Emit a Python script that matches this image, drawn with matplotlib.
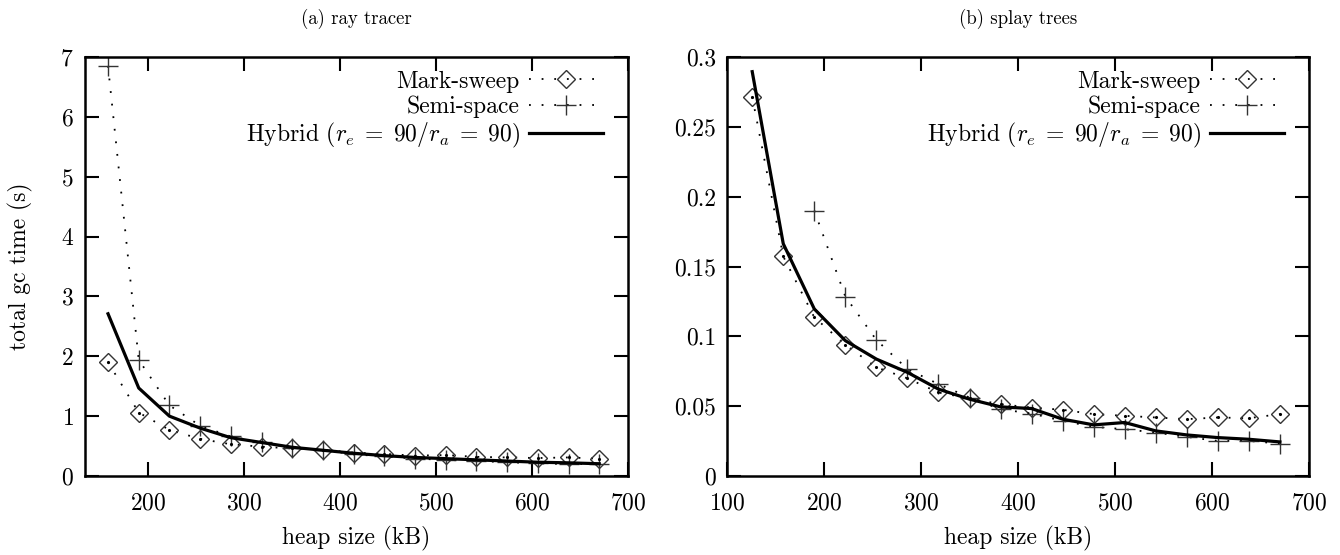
import matplotlib
matplotlib.use('Agg')
import matplotlib.pyplot as plt
from matplotlib.ticker import FuncFormatter

# data (a) ray tracer
ray_heap = [158, 190, 222, 254, 286, 318, 350, 382, 414, 446, 478, 510, 542, 574, 606, 638, 670]
ray_marksweep = [1.90, 1.06, 0.77, 0.62, 0.53, 0.49, 0.46, 0.44, 0.39, 0.37, 0.34, 0.35, 0.32, 0.31, 0.30, 0.31, 0.29]
ray_semispace = [6.85, 1.94, 1.18, 0.84, 0.66, 0.56, 0.47, 0.44, 0.36, 0.33, 0.29, 0.27, 0.25, 0.23, 0.21, 0.20, 0.20]
ray_hybrid = [2.71, 1.47, 1.00, 0.80, 0.64, 0.56, 0.48, 0.43, 0.38, 0.34, 0.31, 0.29, 0.27, 0.25, 0.23, 0.22, 0.205]

# data (b) splay trees
splay_heap = [126, 158, 190, 222, 254, 286, 318, 350, 382, 414, 446, 478, 510, 542, 574, 606, 638, 670]
splay_marksweep = [0.2715, 0.1572, 0.1136, 0.0940, 0.0778, 0.0699, 0.0598, 0.0555, 0.0514, 0.0490,
                   0.0474, 0.0443, 0.0431, 0.0419, 0.0407, 0.0419, 0.0414, 0.0443]
splay_semi_heap = [190, 222, 254, 286, 318, 350, 382, 414, 446, 478, 510, 542, 574, 606, 638, 670]
splay_semispace = [0.190, 0.1285, 0.0974, 0.0766, 0.0658, 0.0562, 0.0478, 0.0447, 0.0395, 0.0352,
                   0.0335, 0.0311, 0.0280, 0.0251, 0.0251, 0.0232]
splay_hybrid = [0.2895, 0.1663, 0.1196, 0.0969, 0.0837, 0.0742, 0.0622, 0.0550, 0.0495, 0.0483,
                0.0407, 0.0366, 0.0383, 0.0323, 0.0294, 0.0275, 0.0263, 0.0244]

labels = ['Mark-sweep', 'Semi-space', r'Hybrid ($r_e\;=\;90/r_a\;=\;90$)']

plt.rcParams['font.family'] = ['cmr10', 'DejaVu Serif']
plt.rcParams['mathtext.fontset'] = 'cm'
plt.rcParams['axes.formatter.use_mathtext'] = True
plt.rcParams['font.size'] = 17

dotted = (0, (1, 6))
mcol = '#333333'


def draw(ax, heap, ms, semi_heap, ss, hyb, width_px):
    ax.plot(heap, ms, linestyle=dotted, color='black', lw=1.3,
            marker='D', ms=9, mfc='none', mec=mcol, mew=1.0, label=labels[0])
    ax.plot(semi_heap, ss, linestyle=dotted, color='black', lw=1.3,
            marker='+', ms=14, mec=mcol, mew=1.0, label=labels[1])
    ax.plot(heap, hyb, '-', color='black', lw=2.3, label=labels[2])
    # centre dots of the dotted line at each point
    ax.plot(heap, ms, '.', color='black', ms=2.5)

    ax.tick_params(direction='in', length=10, width=1.5, top=True, right=True)
    ax.tick_params(axis='x', pad=11.5)
    ax.tick_params(axis='y', pad=8)
    for s in ax.spines.values():
        s.set_linewidth(1.8)
    ax.set_xlabel('heap size (kB)', labelpad=8.5)
    ax.legend(loc='upper right', bbox_to_anchor=(1 - 16 / width_px, 1 - 4 / 419),
              frameon=False, markerfirst=False, numpoints=1,
              handlelength=3.1, handletextpad=0.4, labelspacing=0.12,
              borderaxespad=0, fontsize=17)


fig = plt.figure(figsize=(13.4, 5.55), dpi=100)
ax1 = fig.add_axes([85 / 1340, 79 / 555, 543 / 1340, 419 / 555])
ax2 = fig.add_axes([727 / 1340, 79 / 555, 582 / 1340, 419 / 555])

draw(ax1, ray_heap, ray_marksweep, ray_heap, ray_semispace, ray_hybrid, 543)
ax1.set_xlim(134, 700)
ax1.set_ylim(0, 7)
ax1.set_xticks([200, 300, 400, 500, 600, 700])
ax1.set_yticks(range(0, 8))
ax1.set_ylabel('total gc time (s)', labelpad=20)
ax1.set_title('(a) ray tracer', fontsize=13.5, pad=24)

draw(ax2, splay_heap, splay_marksweep, splay_semi_heap, splay_semispace, splay_hybrid, 582)
ax2.set_xlim(100, 700)
ax2.set_ylim(0, 0.3)
ax2.set_xticks([100, 200, 300, 400, 500, 600, 700])
ax2.set_yticks([0, 0.05, 0.1, 0.15, 0.2, 0.25, 0.3])
ax2.yaxis.set_major_formatter(FuncFormatter(lambda v, p: '%g' % round(v, 3)))
ax2.set_title('(b) splay trees', fontsize=13.5, pad=24)

fig.savefig('out.png', dpi=100)
